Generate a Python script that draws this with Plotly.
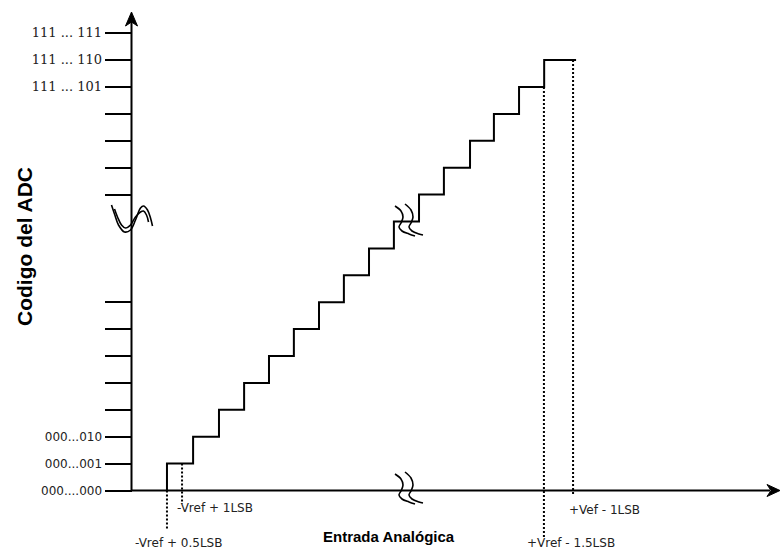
import plotly.graph_objects as go

# ---------------- data ----------------
# output code (index) reached after each transition, and analog input (LSB units) of each transition
codes = [0, 1, 2, 3, 4, 5, 6, 7, 8, 9, 10, 11, 12, 13, 14, 15, 16]
transition_lsb = [0.5, 1.54, 2.57, 3.57, 4.56, 5.55, 6.55, 7.54, 8.54, 9.53,
                  10.53, 11.52, 12.56, 13.51, 14.51, 15.51]
last_step_end = 16.78

tick_codes = [0, 1, 2, 3, 4, 5, 6, 7, 11, 12, 13, 14, 15, 16, 17]
tick_labels = ["000....000", "000...001", "000...010", "", "", "", "", "",
               "", "", "", "", "111 ... 101", "111 ... 110", "111 ... 111"]

ref_lsb = [0.5, 1.1, 15.5, 16.66]          # dotted reference inputs
ref_code = [0, 1, 15, 16]                   # code level where each dotted line starts
ref_labels = ["-Vref + 0.5LSB", "-Vref + 1LSB", "+Vref - 1.5LSB", "+Vef - 1LSB"]

x_title = "Entrada Analógica"
y_title = "Codigo del ADC"

# ---------------- scale (pixels <-> data) ----------------
W, H = 780, 552
X0P, SX = 154.4, 25.13      # pixel of x=0, px per LSB
Y0P, SY = 490.5, 26.9       # pixel of code 0, px per code


def to_x(p):
    return (p - X0P) / SX


def to_y(p):
    return (Y0P - p) / SY


AXIS_PX = 131.5
axis_x = to_x(AXIS_PX)

fig = go.Figure()
BLACK = "#000000"
TXT = "#222222"

# axes lines
fig.add_trace(go.Scatter(x=[axis_x, axis_x], y=[0, to_y(22)], mode="lines",
                         line=dict(color=BLACK, width=2), hoverinfo="skip"))
fig.add_trace(go.Scatter(x=[axis_x, to_x(770)], y=[0, 0], mode="lines",
                         line=dict(color=BLACK, width=2), hoverinfo="skip"))
# arrowheads
fig.add_trace(go.Scatter(
    x=[to_x(AXIS_PX), to_x(AXIS_PX - 6), to_x(AXIS_PX), to_x(AXIS_PX + 6), to_x(AXIS_PX)],
    y=[to_y(12), to_y(26), to_y(22), to_y(26), to_y(12)],
    mode="lines", fill="toself", fillcolor=BLACK, line=dict(color=BLACK, width=1), hoverinfo="skip"))
fig.add_trace(go.Scatter(
    x=[to_x(780), to_x(767), to_x(771), to_x(767), to_x(780)],
    y=[0, to_y(Y0P - 6), 0, to_y(Y0P + 6), 0],
    mode="lines", fill="toself", fillcolor=BLACK, line=dict(color=BLACK, width=1), hoverinfo="skip"))

# staircase
fig.add_trace(go.Scatter(x=transition_lsb + [last_step_end], y=codes,
                         mode="lines", line=dict(color=BLACK, width=2, shape="vh"),
                         hoverinfo="skip"))

# dotted reference lines + labels
ends_px = [530, 504, 538, 495]
label_px = [(178.5, 543), (214.5, 508), (571, 543), (604, 510)]
for xv, cv, e, lab, (lx, ly) in zip(ref_lsb, ref_code, ends_px, ref_labels, label_px):
    fig.add_trace(go.Scatter(x=[xv, xv], y=[cv, to_y(e)], mode="lines",
                             line=dict(color=BLACK, width=2, dash="2px,2px"), hoverinfo="skip"))
    fig.add_annotation(x=to_x(lx), y=to_y(ly), text=lab, showarrow=False,
                       xanchor="center", yanchor="middle",
                       font=dict(family="DejaVu Sans", size=12, color=TXT))

# break glyphs ("//" style) drawn from pixel offsets
stroke1 = [(0, 0), (6, 5), (8, 11), (6, 17), (4, 21), (7, 25), (14, 28), (20, 30)]
stroke2 = [(10, -2), (16, 4), (18, 11), (16, 17), (14, 21), (17, 25), (24, 28), (28, 29)]


def glyph(ax_px, ay_px, pts):
    return [to_x(ax_px + a) for a, b in pts], [to_y(ay_px + b) for a, b in pts]


for (gx, gy) in [(395, 206), (395, 474)]:
    for st in (stroke1, stroke2):
        xs, ys = glyph(gx, gy, st)
        fig.add_trace(go.Scatter(x=xs, y=ys, mode="lines",
                                 line=dict(color=BLACK, width=1.6, shape="spline"),
                                 hoverinfo="skip"))

# y-axis break (double wave)
outer = [(-20, 0), (-17, 9), (-13, 20), (-7, 27), (-1, 25), (4, 15), (9, 3), (12, 1),
         (16, 5), (19, 13), (21, 21)]
inner = [(-17, 4), (-14, 12), (-10, 20), (-6, 23), (-1, 20), (4, 12), (9, 7), (12, 6),
         (15, 10), (17, 17)]
for st in (outer, inner):
    xs, ys = glyph(AXIS_PX, 205, st)
    fig.add_trace(go.Scatter(x=xs, y=ys, mode="lines",
                             line=dict(color=BLACK, width=1.6, shape="spline"),
                             hoverinfo="skip"))

# tick labels fonts: upper serif, lower sans
tick_text = []
for c, t in zip(tick_codes, tick_labels):
    if t and c > 10:
        tick_text.append('<span style="font-family:DejaVu Serif;font-size:13px">' + t + '</span>')
    else:
        tick_text.append(t)

# axis titles
fig.add_annotation(x=to_x(388.5), y=to_y(536), text="<b>" + x_title + "</b>", showarrow=False,
                   xanchor="center", yanchor="middle",
                   font=dict(family="Liberation Sans", size=15, color=BLACK))
fig.add_annotation(x=to_x(24), y=to_y(247), text="<b>" + y_title + "</b>", showarrow=False,
                   textangle=-90, xanchor="center", yanchor="middle",
                   font=dict(family="Liberation Sans", size=21, color=BLACK))

fig.update_layout(
    width=W, height=H, autosize=False,
    margin=dict(l=0, r=0, t=0, b=0),
    paper_bgcolor="white", plot_bgcolor="white",
    showlegend=False,
    xaxis=dict(range=[to_x(0), to_x(W)], visible=False, domain=[0, 1]),
    yaxis=dict(range=[to_y(H), to_y(0)], domain=[0, 1], anchor="free",
               position=AXIS_PX / W, showgrid=False, zeroline=False, showline=False,
               ticks="outside", ticklen=27, tickwidth=2, tickcolor=BLACK,
               tickvals=tick_codes, ticktext=tick_text,
               tickfont=dict(family="DejaVu Sans", size=12, color=TXT)),
)

fig.write_html("out.html", config={"displayModeBar": False},
               post_script="document.body.style.margin='0';document.body.style.overflow='hidden';")
